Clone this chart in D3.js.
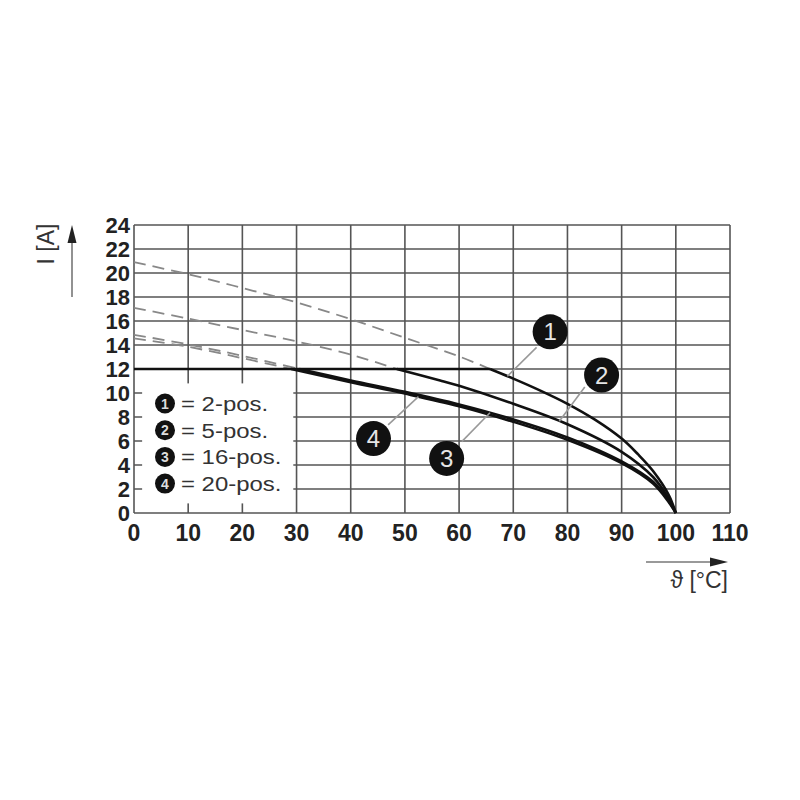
<!DOCTYPE html>
<html><head><meta charset="utf-8">
<script src="https://cdn.jsdelivr.net/npm/d3@7"></script>
<style>body{margin:0;background:#fff}svg{display:block}</style>
</head><body>
<script>
// ---- data ----
const xTicks = [0,10,20,30,40,50,60,70,80,90,100,110];
const yTicks = [0,2,4,6,8,10,12,14,16,18,20,22,24];
const legendLabels = ["= 2-pos.","= 5-pos.","= 16-pos.","= 20-pos."];
const legendIds = ["1","2","3","4"];
const limitLine = [[0,12],[65.7,12]];
const c1Dashed = [[0,20.9],[10,19.9],[20,18.75],[30,17.55],[40,16.15],[50,14.6],[60,13.05],[65.7,12.0]];
const c1Solid  = [[65.7,12.0],[70,11.2],[75,10.2],[80,9.1],[85,7.8],[90,6.2],[93,4.9],[95.8,3.5],[98.7,1.5],[100,0]];
const c2Dashed = [[0,17.1],[10,16.2],[20,15.25],[30,14.3],[40,13.2],[48.5,12.0]];
const c2Solid  = [[48.5,12.0],[56.5,11.05],[60,10.6],[70,9.1],[80,7.4],[90,5.1],[95.8,3.0],[98.7,1.2],[100,0]];
const c3Dashed = [[0,14.85],[10,14.05],[20,13.1],[30.5,12.0]];
const c3Solid  = [[30.5,12.0],[40,11.05],[50,10.1],[60,9.05],[70,7.8],[80,6.3],[90,4.3],[95.8,2.6],[98.7,1.0],[100,0]];
const c4Dashed = [[0,14.55],[10,13.85],[20,12.9],[29,12.0]];
const c4Solid  = [[29,12.0],[40,10.9],[50,9.95],[60,8.9],[70,7.6],[80,6.1],[90,4.15],[95.8,2.45],[98.7,0.9],[100,0]];
// callouts: id, circle centre (data), leader start, leader end (data)
const callouts = [
  {id:"1", c:[76.8,15.1], a:[74.3,13.8], b:[68.9,11.4]},
  {id:"2", c:[86.3,11.5], a:[83.2,10.5], b:[78.5,7.65]},
  {id:"3", c:[57.7,4.55], a:[60.5,5.95], b:[65.7,8.35]},
  {id:"4", c:[44.2,6.2],  a:[46.9,7.35], b:[52.5,9.7]}
];

const W=800,H=800;
const svg=d3.select("body").append("svg").attr("width",W).attr("height",H);
svg.append("rect").attr("width",W).attr("height",H).attr("fill","#fff");
const x=d3.scaleLinear().domain([0,110]).range([134,730]);
const y=d3.scaleLinear().domain([0,24]).range([513,225]);

const grid=svg.append("g");
grid.selectAll("line.v").data(xTicks).join("line")
  .attr("x1",d=>x(d)).attr("x2",d=>x(d)).attr("y1",y(0)).attr("y2",y(24))
  .attr("stroke","#555").attr("stroke-width",1.6);
grid.selectAll("line.h").data(yTicks).join("line")
  .attr("y1",d=>y(d)).attr("y2",d=>y(d)).attr("x1",x(0)).attr("x2",x(110))
  .attr("stroke","#555").attr("stroke-width",1.6);

// legend box covering grid
svg.append("rect").attr("x",x(1.5)).attr("y",y(10.8))
  .attr("width",x(29.4)-x(1.5)).attr("height",y(0.8)-y(10.8)).attr("fill","#fff");

const font="'Liberation Sans', Arial, sans-serif";
// axes labels
svg.append("g").selectAll("text").data(xTicks).join("text")
  .attr("x",d=>x(d)).attr("y",541).attr("text-anchor","middle")
  .attr("font-family",font).attr("font-weight","bold").attr("font-size",23)
  .attr("fill","#222").text(d=>d);
svg.append("g").selectAll("text").data(yTicks).join("text")
  .attr("x",130).attr("y",d=>y(d)+8).attr("text-anchor","end")
  .attr("font-family",font).attr("font-weight","bold").attr("font-size",22)
  .attr("fill","#222").text(d=>d);

const line=d3.line().x(d=>x(d[0])).y(d=>y(d[1])).curve(d3.curveCatmullRom.alpha(0.5));
const dashed=[c1Dashed,c2Dashed,c3Dashed,c4Dashed];
svg.append("g").selectAll("path").data(dashed).join("path")
  .attr("d",line).attr("fill","none").attr("stroke","#888").attr("stroke-width",1.8)
  .attr("stroke-dasharray","12,7");
svg.append("path").datum(limitLine).attr("d",line).attr("fill","none")
  .attr("stroke","#111").attr("stroke-width",2.6);
const solids=[c1Solid,c2Solid,c3Solid,c4Solid];
svg.append("g").selectAll("path").data(solids).join("path")
  .attr("d",line).attr("fill","none").attr("stroke","#111").attr("stroke-width",2.6);

// callouts
const cg=svg.append("g");
cg.selectAll("line").data(callouts).join("line")
  .attr("x1",d=>x(d.a[0])).attr("y1",d=>y(d.a[1])).attr("x2",d=>x(d.b[0])).attr("y2",d=>y(d.b[1]))
  .attr("stroke","#999").attr("stroke-width",1.6);
cg.selectAll("circle").data(callouts).join("circle")
  .attr("cx",d=>x(d.c[0])).attr("cy",d=>y(d.c[1])).attr("r",17.5)
  .attr("fill","#111");
cg.selectAll("text").data(callouts).join("text")
  .attr("x",d=>x(d.c[0])).attr("y",d=>y(d.c[1])+8.5).attr("text-anchor","middle")
  .attr("font-family",font).attr("font-size",24).attr("fill","#e6e6e6").text(d=>d.id);

// legend
const lg=svg.append("g");
legendLabels.forEach((t,i)=>{
  const cy=403.5+i*26.7;
  lg.append("circle").attr("cx",165).attr("cy",cy).attr("r",10).attr("fill","#111");
  lg.append("text").attr("x",165).attr("y",cy+5).attr("text-anchor","middle")
    .attr("font-family",font).attr("font-weight","bold").attr("font-size",14).attr("fill","#ddd").text(legendIds[i]);
  lg.append("text").attr("transform",`translate(181,${cy+7.5}) scale(1.14,1)`)
    .attr("font-family",font).attr("font-size",21).attr("fill","#333").text(t);
});

// axis titles with arrows
svg.append("line").attr("x1",72).attr("y1",297).attr("x2",72).attr("y2",230)
  .attr("stroke","#777").attr("stroke-width",1.6);
svg.append("path").attr("d","M72,225 L67.5,243 L76.5,243 Z").attr("fill","#222");
svg.append("text").attr("transform","translate(54,244) rotate(-90)").attr("text-anchor","middle")
  .attr("font-family",font).attr("font-size",23).attr("fill","#333").text("I [A]");
svg.append("line").attr("x1",646).attr("y1",562).attr("x2",723).attr("y2",562)
  .attr("stroke","#777").attr("stroke-width",1.6);
svg.append("path").attr("d","M728,562 L710,557.5 L710,566.5 Z").attr("fill","#222");
svg.append("text").attr("x",728).attr("y",588).attr("text-anchor","end")
  .attr("font-family",font).attr("font-size",23).attr("fill","#333").text("ϑ [°C]");
</script>
</body></html>
